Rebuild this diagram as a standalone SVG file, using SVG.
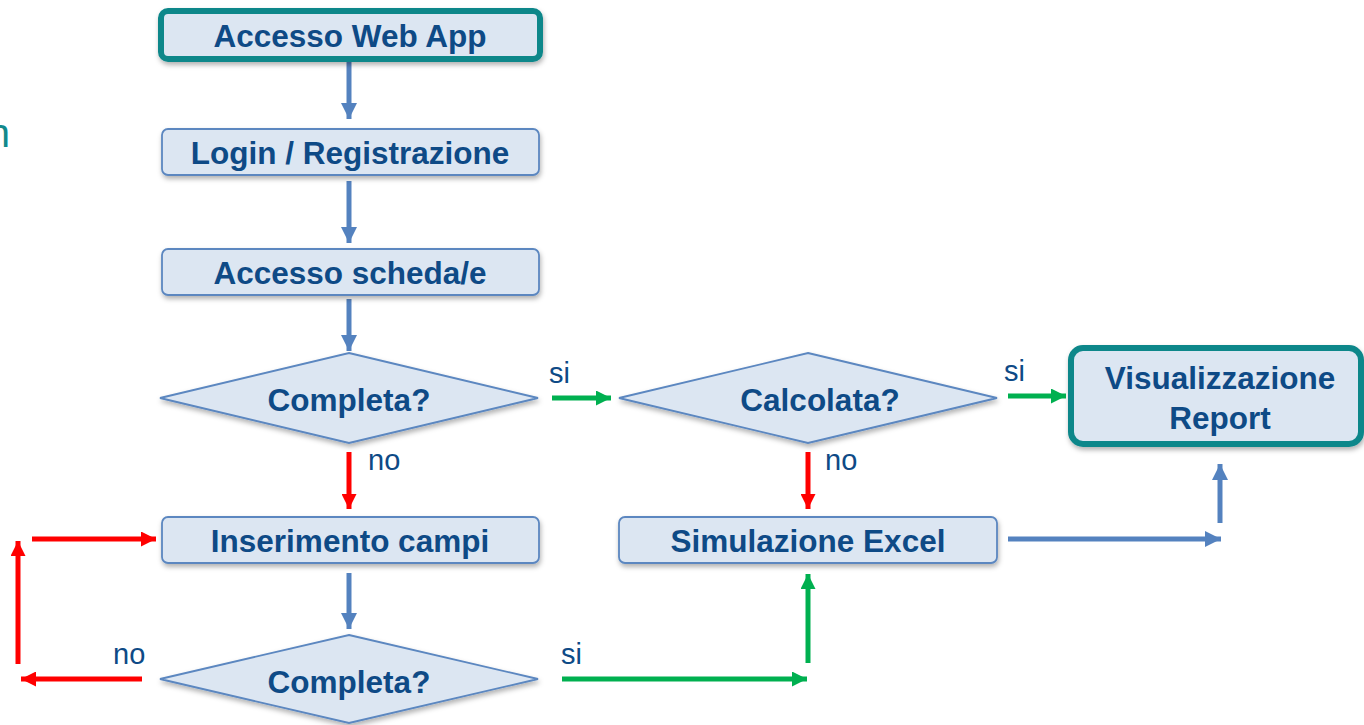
<svg xmlns="http://www.w3.org/2000/svg" width="1364" height="725" viewBox="0 0 1364 725">
<style>
.box{fill:#dce6f2;stroke:#5b87c0;stroke-width:1.8}
.term{fill:#dce6f2;stroke:#10878a;stroke-width:6}
.t{font-family:"Liberation Sans",Arial,sans-serif;font-weight:bold;font-size:31.5px;fill:#0e4a86;text-anchor:middle}
.l{font-family:"Liberation Sans",Arial,sans-serif;font-size:29px;fill:#0e4a86}
.b{stroke:#5482bf;stroke-width:5;fill:none}
.r{stroke:#ff0000;stroke-width:5;fill:none}
.g{stroke:#00b050;stroke-width:5;fill:none}
</style>
<defs>
<filter id="sh" x="-10%" y="-20%" width="120%" height="150%">
<feDropShadow dx="1" dy="3" stdDeviation="2.5" flood-color="#000" flood-opacity="0.3"/>
</filter>
<marker id="mb" viewBox="0 0 10 10" refX="10" refY="5" markerWidth="3.2" markerHeight="3.2" orient="auto" markerUnits="strokeWidth"><path d="M0,0 L10,5 L0,10 z" fill="#5482bf"/></marker>
<marker id="mr" viewBox="0 0 10 10" refX="10" refY="5" markerWidth="3" markerHeight="3" orient="auto" markerUnits="strokeWidth"><path d="M0,0 L10,5 L0,10 z" fill="#ff0000"/></marker>
<marker id="mg" viewBox="0 0 10 10" refX="10" refY="5" markerWidth="3" markerHeight="3" orient="auto" markerUnits="strokeWidth"><path d="M0,0 L10,5 L0,10 z" fill="#00b050"/></marker>
</defs>
<rect width="1364" height="725" fill="#ffffff"/>
<text x="10" y="147" font-family="Liberation Sans,Arial,sans-serif" font-size="40" fill="#12898c" text-anchor="end">n</text>

<g id="connectors">
<line class="b" x1="349" y1="62" x2="349" y2="119" marker-end="url(#mb)"/>
<line class="b" x1="349" y1="181" x2="349" y2="243" marker-end="url(#mb)"/>
<line class="b" x1="349" y1="299" x2="349" y2="351" marker-end="url(#mb)"/>
<line class="g" x1="552" y1="398" x2="611" y2="398" marker-end="url(#mg)"/>
<text class="l" x="549" y="383">si</text>
<line class="r" x1="349" y1="452" x2="349" y2="509" marker-end="url(#mr)"/>
<text class="l" x="368" y="470">no</text>
<line class="g" x1="1008" y1="396" x2="1066" y2="396" marker-end="url(#mg)"/>
<text class="l" x="1004" y="381">si</text>
<line class="r" x1="808" y1="452" x2="808" y2="509" marker-end="url(#mr)"/>
<text class="l" x="825" y="470">no</text>
<line class="b" x1="349" y1="573" x2="349" y2="629" marker-end="url(#mb)"/>
<line class="r" x1="142" y1="679" x2="21" y2="679" marker-end="url(#mr)"/>
<text class="l" x="113" y="664">no</text>
<line class="r" x1="18" y1="664" x2="18" y2="541" marker-end="url(#mr)"/>
<line class="r" x1="32" y1="539" x2="156" y2="539" marker-end="url(#mr)"/>
<line class="g" x1="562" y1="679" x2="807" y2="679" marker-end="url(#mg)"/>
<text class="l" x="561" y="664">si</text>
<line class="g" x1="808" y1="663" x2="808" y2="574" marker-end="url(#mg)"/>
<line class="b" x1="1008" y1="539" x2="1221" y2="539" marker-end="url(#mb)"/>
<line class="b" x1="1220" y1="523" x2="1220" y2="464" marker-end="url(#mb)"/>
</g>

<g id="n_accesso_web">
<rect class="term" x="161" y="11" width="379" height="48" rx="7" filter="url(#sh)"/>
<text class="t" x="350" y="47">Accesso Web App</text>
</g>
<g id="n_login">
<rect class="box" x="162" y="129" width="377" height="46" rx="6" filter="url(#sh)"/>
<text class="t" x="350" y="164">Login / Registrazione</text>
</g>
<g id="n_scheda">
<rect class="box" x="162" y="249" width="377" height="46" rx="6" filter="url(#sh)"/>
<text class="t" x="350" y="284">Accesso scheda/e</text>
</g>
<g id="n_completa1">
<polygon class="box" points="349,353 538,398 349,443 160,398" filter="url(#sh)"/>
<text class="t" x="349" y="411">Completa?</text>
</g>
<g id="n_calcolata">
<polygon class="box" points="808,353 997,398 808,443 619,398" filter="url(#sh)"/>
<text class="t" x="820" y="411">Calcolata?</text>
</g>
<g id="n_report">
<rect class="term" x="1071" y="348" width="290" height="96" rx="12" filter="url(#sh)"/>
<text class="t" x="1220" y="389">Visualizzazione</text>
<text class="t" x="1220" y="429">Report</text>
</g>
<g id="n_inserimento">
<rect class="box" x="162" y="517" width="377" height="46" rx="6" filter="url(#sh)"/>
<text class="t" x="350" y="552">Inserimento campi</text>
</g>
<g id="n_simulazione">
<rect class="box" x="619" y="517" width="378" height="46" rx="6" filter="url(#sh)"/>
<text class="t" x="808" y="552">Simulazione Excel</text>
</g>
<g id="n_completa2">
<polygon class="box" points="349,635 538,679 349,723 160,679" filter="url(#sh)"/>
<text class="t" x="349" y="693">Completa?</text>
</g>
</svg>
